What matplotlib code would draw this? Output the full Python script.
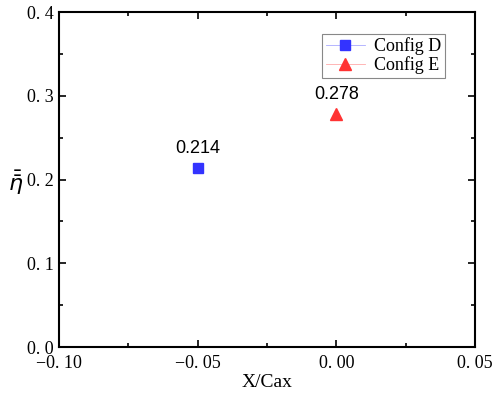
import numpy as np
import matplotlib.pyplot as plt
from matplotlib.ticker import MultipleLocator, FuncFormatter

# data
configs = ['Config D', 'Config E']
x_pos = [-0.05, 0.0]
eta_vals = [0.214, 0.278]
markers = ['s', '^']
colors = ['#3333ff', '#ff3333']
light = ['#aaaaff', '#ffaaaa']

plt.rcParams['font.family'] = ['Liberation Serif', 'DejaVu Serif']

fig = plt.figure(figsize=(5, 3.95), dpi=100)
ax = fig.add_axes([0.118, 0.1215, 0.832, 0.848])

for i in range(len(configs)):
    ax.plot(x_pos[i], eta_vals[i], linestyle='-', marker=markers[i],
            color=colors[i], markersize=7 if markers[i] == 's' else 8.5,
            linewidth=0.6, label=configs[i])
    ax.text(x_pos[i], eta_vals[i] + 0.013, '%.3f' % eta_vals[i],
            ha='center', va='bottom', fontsize=13, family='Liberation Sans')

ax.set_xlim(-0.10, 0.05)
ax.set_ylim(0.0, 0.4)
ax.xaxis.set_major_locator(MultipleLocator(0.05))
ax.xaxis.set_minor_locator(MultipleLocator(0.025))
ax.yaxis.set_major_locator(MultipleLocator(0.1))
ax.yaxis.set_minor_locator(MultipleLocator(0.05))

def fmt2(v, pos):
    s = '%.2f' % v
    if s == '-0.00':
        s = '0.00'
    return s.replace('-', '\u2212').replace('.', '. ')

def fmt1(v, pos):
    return ('%.1f' % v).replace('.', '. ')

ax.xaxis.set_major_formatter(FuncFormatter(fmt2))
ax.yaxis.set_major_formatter(FuncFormatter(fmt1))

ax.tick_params(which='both', direction='in', top=True, right=True, labelsize=13, width=1.2)
ax.tick_params(axis='x', pad=6)
ax.tick_params(axis='y', pad=4)
ax.tick_params(which='major', length=5)
ax.tick_params(which='minor', length=3)
for sp in ax.spines.values():
    sp.set_linewidth(1.5)

ax.set_xlabel('X/Cax', fontsize=14, labelpad=1)
ax.set_ylabel(r'$\bar{\bar{\eta}}$', fontsize=16, rotation=0, va='center', ha='center')
ax.yaxis.set_label_coords(-0.105, 0.49)

leg = ax.legend(loc='upper right', bbox_to_anchor=(0.95, 0.962), fontsize=13,
                fancybox=False, edgecolor='#888888', framealpha=1,
                handlelength=2.2, borderpad=0.2, labelspacing=0.05,
                handletextpad=0.5)
for line, c, lc in zip(leg.get_lines(), colors, light):
    line.set_color(lc)
    line.set_markerfacecolor(c)
    line.set_markeredgecolor(c)
leg.get_frame().set_linewidth(0.8)

fig.savefig('out.png', dpi=100)
